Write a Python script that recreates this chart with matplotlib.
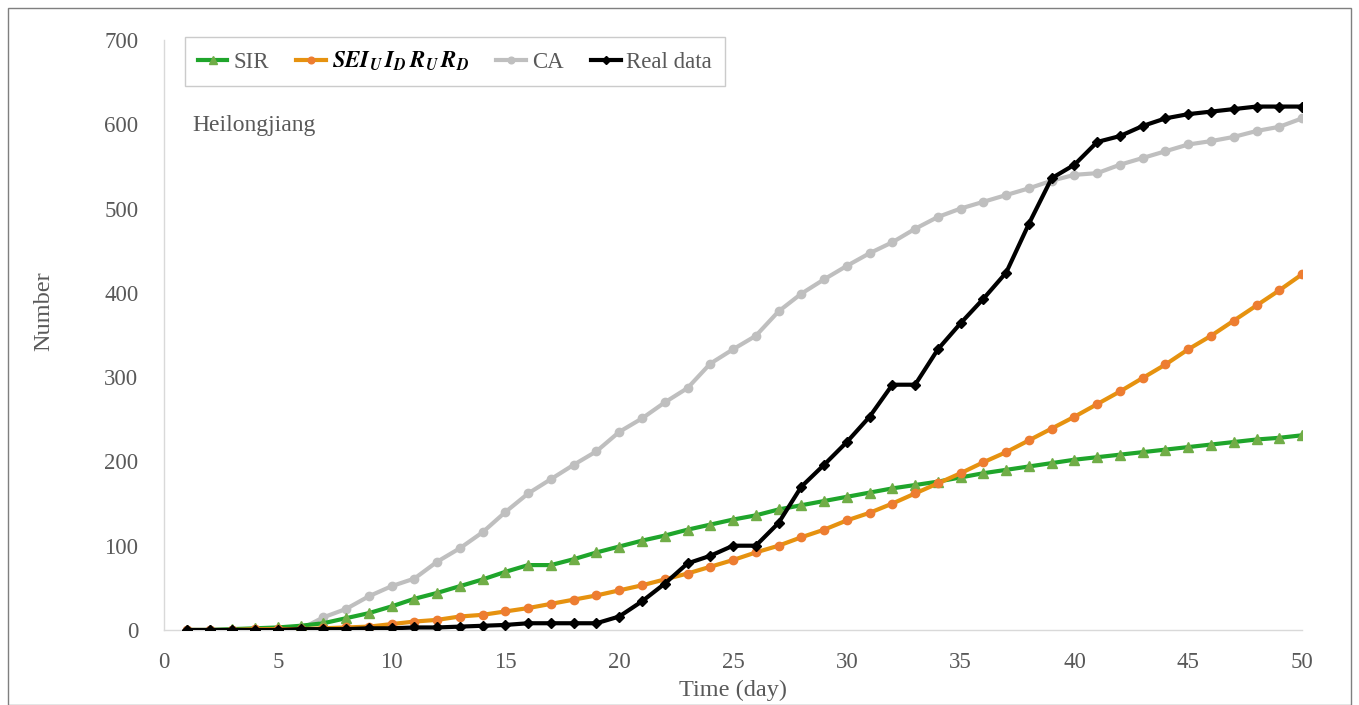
import matplotlib.pyplot as plt
from matplotlib.patches import Rectangle
import numpy as np

plt.rcParams['font.family'] = ['Liberation Serif', 'DejaVu Serif']
plt.rcParams['mathtext.fontset'] = 'stix'

days = np.arange(1, 51)

sir = [0, 0, 1, 2, 3, 5, 8, 14, 20, 28, 37, 44, 52, 60, 69, 77, 77, 84, 92, 99,
       106, 112, 119, 125, 131, 136, 143, 148, 153, 158, 163, 168, 172, 176, 181, 186, 190, 194, 198, 202,
       205, 208, 211, 214, 217, 220, 223, 226, 228, 231]
seiird = [0, 0, 0, 1, 1, 1, 2, 3, 4, 7, 10, 12, 16, 18, 22, 26, 31, 36, 41, 47,
          53, 60, 67, 75, 83, 92, 100, 110, 119, 130, 139, 150, 162, 174, 186, 199, 211, 225, 239, 253,
          268, 283, 299, 315, 333, 349, 367, 385, 403, 422]
ca = [0, 0, 0, 0, 0, 1, 15, 25, 40, 52, 61, 81, 97, 116, 140, 162, 179, 196, 212, 235,
      251, 270, 287, 316, 333, 349, 378, 399, 416, 432, 447, 460, 476, 490, 500, 508, 516, 524, 533, 540,
      542, 552, 560, 568, 576, 580, 585, 592, 597, 607]
real = [0, 0, 0, 0, 0, 1, 1, 1, 2, 2, 3, 3, 4, 5, 6, 8, 8, 8, 8, 16,
        34, 55, 79, 88, 100, 100, 127, 170, 196, 223, 253, 291, 291, 333, 364, 393, 424, 482, 536, 552,
        579, 586, 598, 607, 612, 615, 618, 621, 621, 621]

fig = plt.figure(figsize=(13.59, 7.05), dpi=100)
ax = fig.add_axes([0.1207, 0.1064, 0.8374, 0.8369])

ax.plot(days, sir, color='#1fa52b', lw=3, marker='^', ms=7,
        mfc='#70ad47', mec='#70ad47', label='SIR', zorder=3)
ax.plot(days, seiird, color='#e6920f', lw=3, marker='o', ms=6,
        mfc='#ed7d31', mec='#ed7d31', label=r'$\mathbfit{SEI_U\,I_D\,R_U\,R_D}$', zorder=3)
ax.plot(days, ca, color='#bfbfbf', lw=3, marker='o', ms=6,
        mfc='#bfbfbf', mec='#bfbfbf', label='CA', zorder=2)
ax.plot(days, real, color='black', lw=3, marker='D', ms=5,
        mfc='black', mec='black', label='Real data', zorder=4)

ax.set_xlim(0, 50)
ax.set_ylim(0, 700)
ax.set_xticks(range(0, 51, 5))
ax.set_yticks(range(0, 701, 100))
ax.tick_params(length=0, labelsize=16.5, labelcolor='#595959')
ax.tick_params(axis='y', pad=18.5)
ax.tick_params(axis='x', pad=15.5)
for s in ['top', 'right']:
    ax.spines[s].set_visible(False)
for s in ['left', 'bottom']:
    ax.spines[s].set_color('#d9d9d9')
    ax.spines[s].set_linewidth(1)

ax.set_xlabel('Time (day)', fontsize=17.5, color='#595959', labelpad=5)
ax.set_ylabel('Number', fontsize=17.5, color='#595959')
ax.yaxis.set_label_coords(-0.096, 0.54)

ax.text(0.025, 0.855, 'Heilongjiang', transform=ax.transAxes, fontsize=17,
        color='#595959', va='center')

leg = ax.legend(loc='upper left', bbox_to_anchor=(0.0185, 1.005), ncol=4,
                fontsize=16.5, frameon=True, fancybox=False, handlelength=1.3,
                handletextpad=0.25, columnspacing=1.2, borderpad=0.55,
                borderaxespad=0, markerscale=0.8)
leg.get_frame().set_edgecolor('#bfbfbf')
leg.get_frame().set_linewidth(1)
for i, t in enumerate(leg.get_texts()):
    t.set_color('black' if i == 1 else '#595959')

fig.patches.append(Rectangle((0.006, 0.0), 0.988, 0.989, transform=fig.transFigure,
                             fill=False, edgecolor='#7f7f7f', lw=1))

fig.savefig('out.png', dpi=100)
